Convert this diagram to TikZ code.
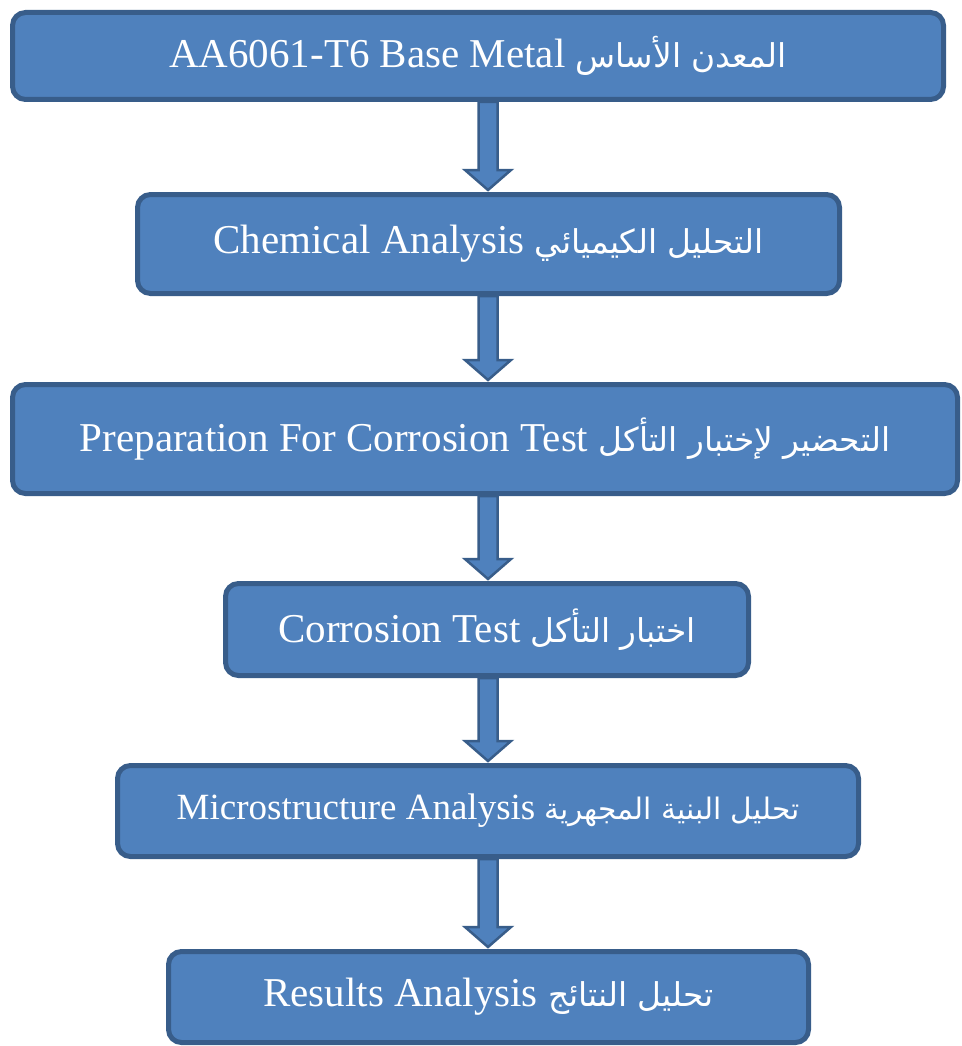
\documentclass[tikz,border=0pt]{standalone}
\usepackage{fontspec}
\setmainfont{Liberation Serif}
\newfontfamily\arabicfont[Script=Arabic,Scale=0.8]{DejaVu Sans}
\TeXXeTstate=1
\usetikzlibrary{calc}
\definecolor{boxblue}{HTML}{4F81BD}
\definecolor{boxedge}{HTML}{385D8A}
\tikzset{
  stepbox/.style={draw=boxedge, fill=boxblue, line width=5pt, rounded corners=13pt,
    text=white, font=\fontsize{41}{48}\selectfont, inner sep=0pt},
  flowarrow/.style={draw=boxedge, fill=boxblue, line width=2.5pt, line join=miter}
}
\newcommand{\ar}[1]{{\arabicfont\beginR #1\endR}}
% block arrow from node #1 down to node #2
\newcommand{\blockarrow}[2]{%
  \path[flowarrow] let \p1=(#1.south), \p2=(#2.north) in
    (478.5,\y1) -- (478.5,\y2+22pt) -- (465,\y2+22pt) -- (488,\y2+2pt)
    -- (511,\y2+22pt) -- (497.5,\y2+22pt) -- (497.5,\y1) -- cycle;}
\begin{document}
\begin{tikzpicture}[x=1pt,y=-1pt]
\useasboundingbox (0,0) rectangle (961,1046);
\node[stepbox, minimum width=931, minimum height=87] (base) at (478,56)
  {AA6061-T6 Base Metal \ar{المعدن الأساس}};
\node[stepbox, minimum width=702, minimum height=99] (chem) at (488.5,244)
  {Chemical Analysis \ar{التحليل الكيميائي}};
\node[stepbox, minimum width=945, minimum height=109] (prep) at (485,439)
  {Preparation For Corrosion Test \ar{التحضير لإختبار التأكل}};
\node[stepbox, minimum width=523, minimum height=92] (corr) at (487,629.5)
  {Corrosion Test \ar{اختبار التأكل}};
\node[stepbox, minimum width=741, minimum height=91, font=\fontsize{37}{42}\selectfont] (micro) at (488,811)
  {Microstructure Analysis \ar{تحليل البنية المجهرية}};
\node[stepbox, minimum width=640, minimum height=91] (res) at (488.5,997)
  {Results Analysis \ar{تحليل النتائج}};
% arrows between the steps
\blockarrow{base}{chem}
\blockarrow{chem}{prep}
\blockarrow{prep}{corr}
\blockarrow{corr}{micro}
\blockarrow{micro}{res}
\end{tikzpicture}
\end{document}
